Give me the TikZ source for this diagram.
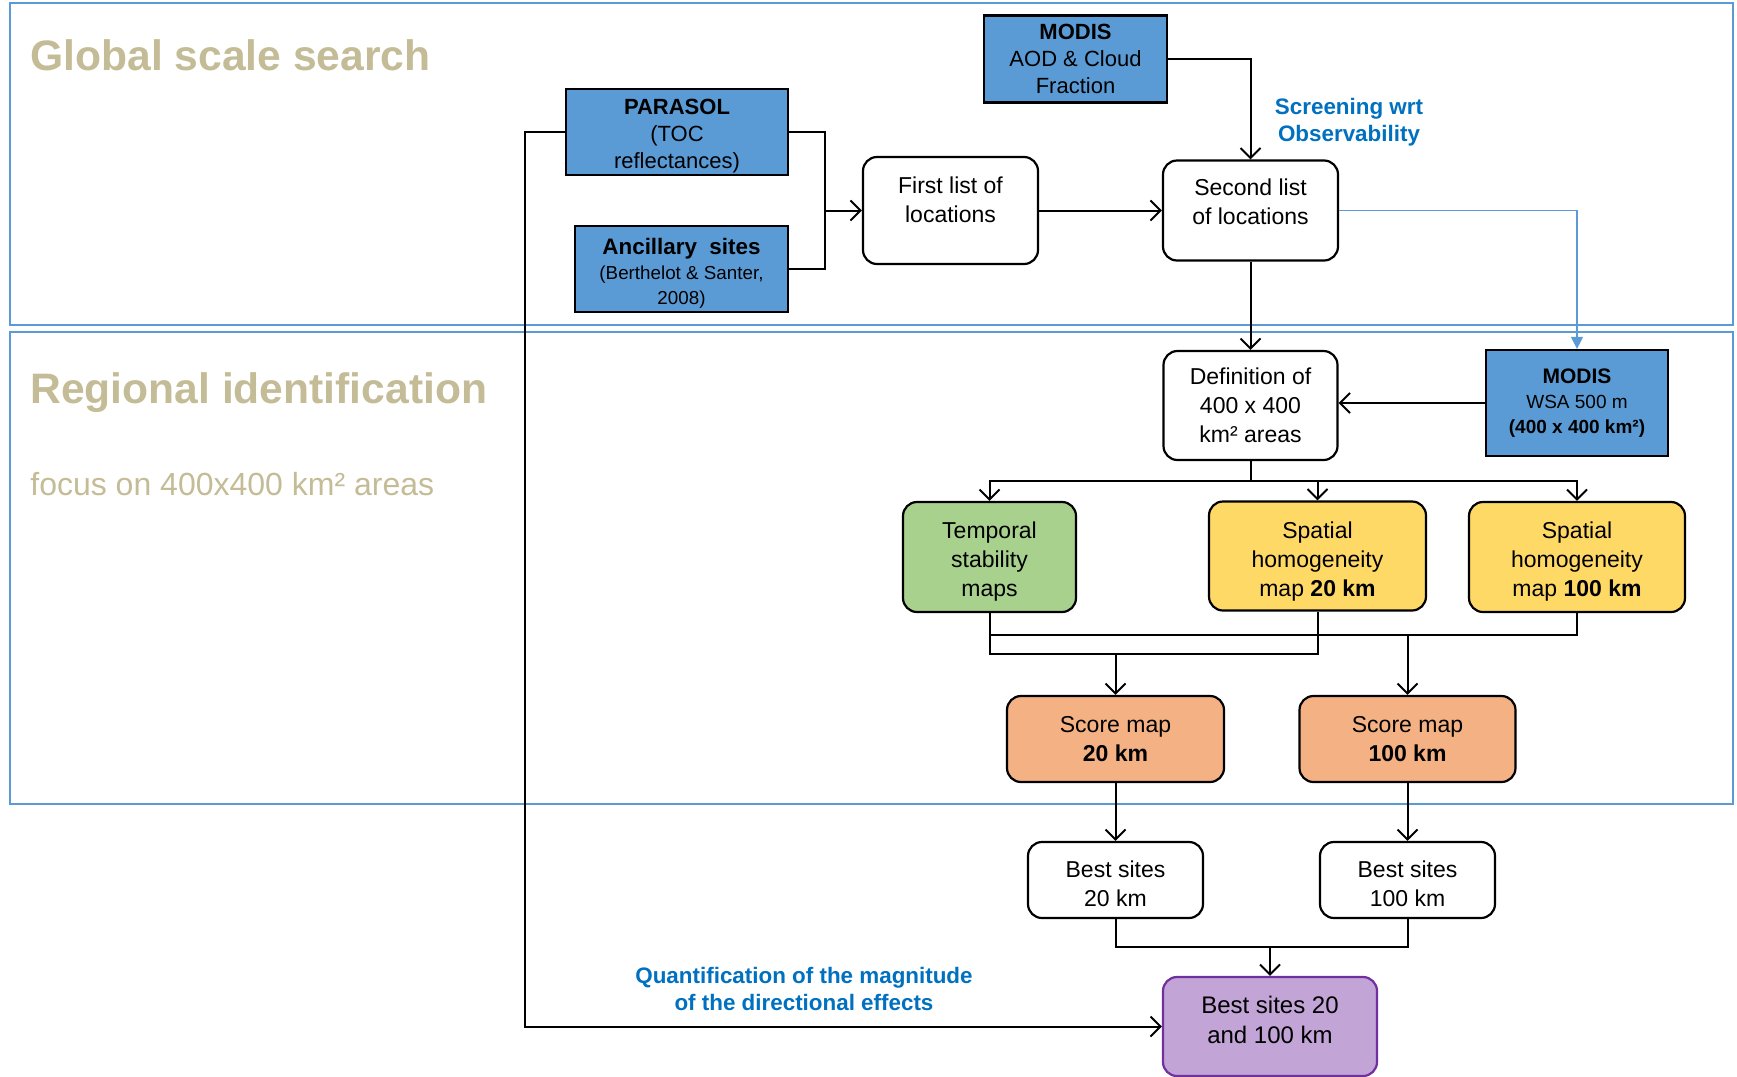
\documentclass[tikz,border=0pt]{standalone}
\usepackage{fontspec}
\setmainfont{Liberation Sans}
\usetikzlibrary{arrows.meta}

\definecolor{frameblue}{HTML}{5B9BD5}
\definecolor{datablue}{HTML}{5B9BD5}
\definecolor{tempgreen}{HTML}{A9D18E}
\definecolor{spatyellow}{HTML}{FFD966}
\definecolor{scoreorange}{HTML}{F4B183}
\definecolor{bestpurple}{HTML}{C2A4D6}
\definecolor{bestedge}{HTML}{7030A0}
\definecolor{titletan}{HTML}{C4BC96}
\definecolor{notetext}{HTML}{0070C0}

\begin{document}
\begin{tikzpicture}[x=0.5pt,y=-0.5pt,
  >={Straight Barb[length=5pt,width=10pt]},
  link/.style={draw=black, line width=1pt},
  thinlink/.style={draw=frameblue, line width=0.6pt, -{Triangle[length=6pt,width=6pt]}},
  frame/.style={draw=frameblue, line width=1.1pt},
  databox/.style={draw=black, line width=1.1pt, fill=datablue, align=center, inner sep=0pt,
    font=\fontsize{11}{13.5}\selectfont},
  roundbox/.style={draw=black, line width=1.1pt, rounded corners=7pt, align=center, inner sep=0pt,
    font=\fontsize{11.5}{14.5}\selectfont},
  listbox/.style={roundbox, fill=white},
  title/.style={anchor=base west, inner sep=0pt, text=titletan, font=\fontsize{21.3}{25}\selectfont\bfseries},
  note/.style={align=center, text=notetext, font=\fontsize{11.2}{13.5}\selectfont\bfseries}]
\useasboundingbox (0,0) rectangle (1737,1077);

% the two stages
\draw[frame] (10,3) rectangle (1733,325);
\draw[frame] (10,332) rectangle (1733,804);
\node[title] (globaltitle) at (30,70) {Global scale search};
\node[title] (regiontitle) at (30,403) {Regional identification};
\node[anchor=base west, inner sep=0pt, text=titletan, font=\fontsize{16}{19}\selectfont] (focustext) at (30,495) {focus on 400x400 km² areas};

% global scale search
\node[databox, minimum width=111pt, minimum height=43pt, text height=39pt] (parasol) at (677,132) {\textbf{PARASOL}\\(TOC\\reflectances)};
\node[databox, minimum width=106.5pt, minimum height=43pt, text height=37pt, font=\fontsize{9.4}{12.5}\selectfont] (ancillary) at (681.5,269)
  {{\fontsize{11.2}{13}\selectfont\textbf{Ancillary\ \ sites}}\\(Berthelot \& Santer,\\2008)};
\node[databox, minimum width=91.5pt, minimum height=43.5pt] (modisaod) at (1075.5,59) {\textbf{MODIS}\\AOD \& Cloud\\Fraction};
\node[listbox, minimum width=87.5pt, minimum height=53.5pt, text depth=11pt] (firstlist) at (950.5,210.5) {First list of\\locations};
\node[listbox, minimum width=87.5pt, minimum height=50pt, text depth=8.8pt] (secondlist) at (1250.5,210.5) {Second list\\of locations};
\node[note] (screennote) at (1349,122) {Screening wrt\\Observability};

% regional identification
\node[listbox, minimum width=87pt, minimum height=54.5pt] (definition) at (1250.5,405.5) {Definition of\\400 x 400\\km² areas};
\node[databox, minimum width=91pt, minimum height=53pt, font=\fontsize{9.5}{12.5}\selectfont] (modiswsa) at (1577,403)
  {{\fontsize{10.5}{12}\selectfont\textbf{MODIS}}\\WSA 500 m\\\textbf{(400 x 400 km²)}};
\node[roundbox, fill=tempgreen, minimum width=86.5pt, minimum height=55pt, text height=41.6pt] (temporal) at (989.5,557) {Temporal\\stability\\maps};
\node[roundbox, fill=spatyellow, minimum width=108.5pt, minimum height=54.5pt, text height=43.1pt] (spatialb) at (1317.5,556) {Spatial\\homogeneity\\map \textbf{20 km}};
\node[roundbox, fill=spatyellow, minimum width=108pt, minimum height=55pt, text height=41.6pt] (spatialc) at (1577,557) {Spatial\\homogeneity\\map \textbf{100 km}};
\node[roundbox, fill=scoreorange, minimum width=108.5pt, minimum height=43pt] (scoreb) at (1115.5,739) {Score map\\\textbf{20 km}};
\node[roundbox, fill=scoreorange, minimum width=108pt, minimum height=43pt] (scorec) at (1407.5,739) {Score map\\\textbf{100 km}};

% selection
\node[listbox, minimum width=87.5pt, minimum height=38pt, text height=26.2pt] (bestb) at (1115.5,880) {Best sites\\20 km};
\node[listbox, minimum width=87.5pt, minimum height=38pt, text height=26.2pt] (bestc) at (1407.5,880) {Best sites\\100 km};
\node[roundbox, draw=bestedge, fill=bestpurple, minimum width=107pt, minimum height=49.5pt, text depth=6.6pt, font=\fontsize{12}{15}\selectfont] (bestall) at (1270,1026.5) {Best sites 20\\and 100 km};
\node[note] (quantnote) at (804,989) {Quantification of the magnitude\\of the directional effects};

% connectors
\coordinate (merge) at (825,210.5);
\draw[link] (parasol.east) -| (merge);
\draw[link] (ancillary.east) -| (merge);
\draw[link,->] (merge) -- (firstlist.west);
\draw[link,->] (firstlist.east) -- (secondlist.west);
\draw[link,->] (modisaod.east) -| (secondlist.north);
\draw[link,->] (secondlist.south) -- (definition.north);
\draw[thinlink] (secondlist.east) -| (modiswsa.north);
\draw[link,->] (modiswsa.west) -- (modiswsa.west -| definition.east);

\coordinate (split) at (1250.5,481);
\draw[link] (definition.south) -- (split);
\draw[link,->] (split) -| (temporal.north);
\draw[link,->] (split) -| (spatialb.north);
\draw[link,->] (split) -| (spatialc.north);

\coordinate (joinb) at (1115.5,653.5);
\coordinate (joinc) at (1407.5,635);
\draw[link] (temporal.south) |- (joinb -| spatialb.south) -- (spatialb.south);
\draw[link] (temporal.south) |- (joinc -| spatialc.south) -- (spatialc.south);
\draw[link,->] (joinb) -- (scoreb.north);
\draw[link,->] (joinc) -- (scorec.north);
\draw[link,->] (scoreb.south) -- (bestb.north);
\draw[link,->] (scorec.south) -- (bestc.north);

\coordinate (joinbest) at (1270,947);
\draw[link] (bestb.south) |- (joinbest -| bestc.south) -- (bestc.south);
\draw[link,->] (joinbest) -- (bestall.north);

\coordinate (bypass) at (525,1026.5);
\draw[link,->] (parasol.west) -| (bypass) -- (bestall.west);
\end{tikzpicture}
\end{document}
